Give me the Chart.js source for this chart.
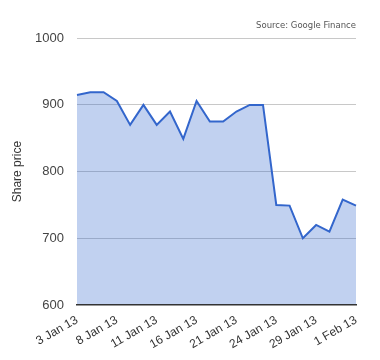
<!DOCTYPE html>
<html>
<head>
<meta charset="utf-8">
<script src="https://cdn.jsdelivr.net/npm/chart.js@4/dist/chart.umd.min.js"></script>
<style>
  html, body { margin: 0; padding: 0; background: #fff; }
  #wrap { width: 380px; height: 360px; }
</style>
</head>
<body>
<div id="wrap"><canvas id="chart" width="380" height="360"></canvas></div>
<script>
// trading days, 3 Jan 13 .. 1 Feb 13
const dates = [
  "3 Jan 13", "4 Jan 13", "7 Jan 13", "8 Jan 13", "9 Jan 13", "10 Jan 13",
  "11 Jan 13", "14 Jan 13", "15 Jan 13", "16 Jan 13", "17 Jan 13", "18 Jan 13",
  "21 Jan 13", "22 Jan 13", "23 Jan 13", "24 Jan 13", "25 Jan 13", "28 Jan 13",
  "29 Jan 13", "30 Jan 13", "31 Jan 13", "1 Feb 13"
];
const prices = [
  915, 919, 919, 906, 870, 900, 870, 890, 849, 906, 875, 875,
  890, 900, 900, 750, 749, 700, 720, 710, 758, 749
];
const yTicks = [600, 700, 800, 900, 1000];
const labelEvery = 3;

const ctx = document.getElementById("chart").getContext("2d");

new Chart(ctx, {
  type: "line",
  data: {
    labels: dates,
    datasets: [{
      label: "Share price",
      data: prices,
      borderColor: "#3366cc",
      backgroundColor: "rgba(51, 102, 204, 0.3)",
      borderWidth: 2,
      tension: 0,
      pointRadius: 0,
      fill: "start"
    }]
  },
  options: {
    responsive: false,
    animation: false,
    layout: { padding: { top: 0, right: 24, left: 0, bottom: 0 } },
    plugins: {
      legend: { display: false },
      tooltip: { enabled: false },
      title: {
        display: true,
        text: "Source: Google Finance",
        align: "end",
        color: "#555",
        font: { family: "DejaVu Sans", size: 8.5, weight: "normal" },
        padding: { top: 21, bottom: 7 }
      }
    },
    scales: {
      x: {
        offset: false,
        grid: { display: false },
        border: { display: true, color: "#333", width: 1.5, z: 1 },
        ticks: {
          autoSkip: false,
          maxRotation: 30,
          minRotation: 30,
          color: "#333",
          font: { family: "Liberation Sans", size: 12 },
          padding: 0,
          callback: function(val, i) {
            return i % labelEvery === 0 ? dates[i] : null;
          }
        },
        afterFit: function(scale) { scale.height = 55; }
      },
      y: {
        min: 600,
        max: 1000,
        afterBuildTicks: function(scale) {
          scale.ticks = yTicks.map(v => ({ value: v }));
        },
        grid: {
          color: c => c.tick && c.tick.value === 600 ? "rgba(0,0,0,0)" : "#c8c8c8",
          drawTicks: false
        },
        border: { display: false },
        ticks: {
          color: "#444",
          font: { family: "Liberation Sans", size: 13 },
          padding: 13,
          callback: v => String(v)
        },
        title: {
          display: true,
          text: "Share price",
          color: "#333",
          font: { family: "Liberation Sans", size: 12 },
          padding: { top: 10, bottom: 0 }
        },
        afterFit: function(scale) { scale.width = 77; }
      }
    }
  }
});
</script>
</body>
</html>
